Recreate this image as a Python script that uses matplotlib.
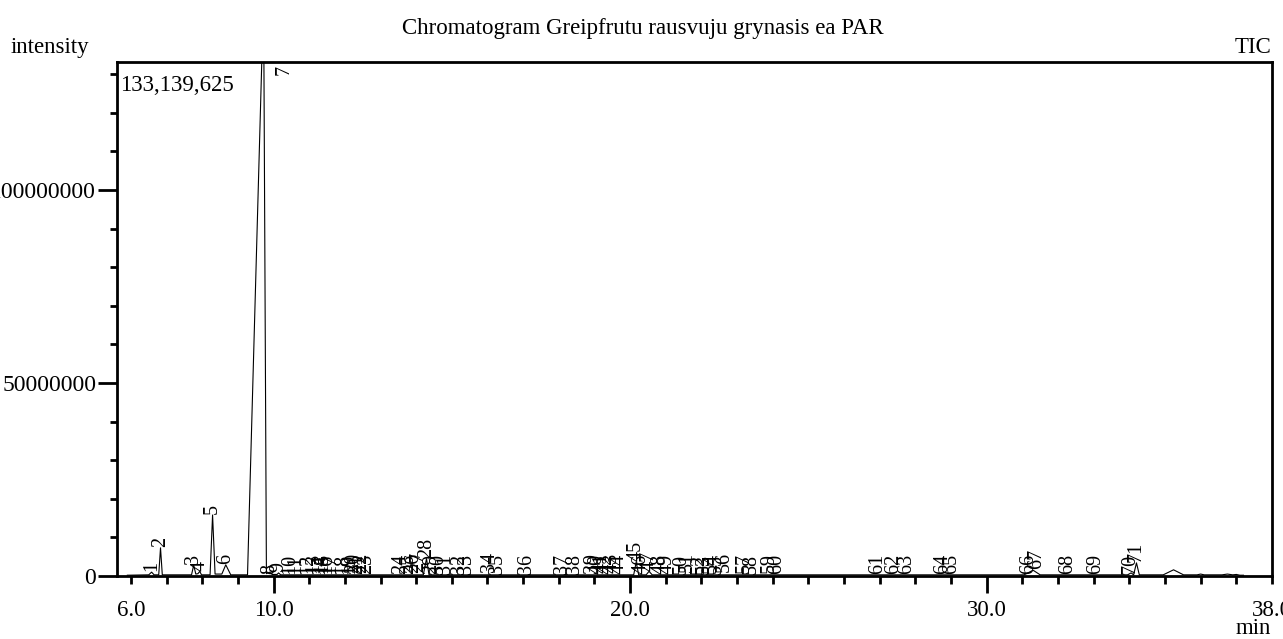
import matplotlib
matplotlib.use("Agg")
import matplotlib.pyplot as plt
from matplotlib.ticker import MultipleLocator, FixedLocator, FuncFormatter

plt.rcParams['font.family'] = ['Liberation Serif', 'DejaVu Serif']

# chromatogram trace (retention time in min, intensity in counts)
trace_t = [5.90, 6.50, 6.58, 6.65, 6.78, 6.83, 6.88, 7.70, 7.76, 7.82, 7.88, 7.93, 7.98,
           8.22, 8.29, 8.36, 8.55, 8.66, 8.80, 9.27, 9.67, 9.73, 9.80, 9.89, 9.96,
           10.10, 10.14, 10.20, 14.20, 14.29, 14.36, 20.10, 20.17, 20.24, 20.45, 20.53, 20.62,
           31.05, 31.30, 31.50, 33.95, 34.05, 34.12, 34.20, 34.28, 34.95, 35.24, 35.52,
           35.90, 36.00, 36.10, 36.60, 36.75, 36.90, 37.00, 37.10, 37.20]
trace_i = [0.2e6, 0.3e6, 1.0e6, 0.3e6, 0.3e6, 7.3e6, 0.3e6, 0.3e6, 2.8e6, 0.5e6, 0.6e6, 1.2e6, 0.3e6,
           0.3e6, 15.8e6, 0.5e6, 0.5e6, 2.9e6, 0.3e6, 0.3e6, 133139625, 133139625, 0.6e6, 1.0e6, 0.4e6,
           0.4e6, 0.8e6, 0.3e6, 0.3e6, 4.5e6, 0.3e6, 0.3e6, 3.6e6, 0.3e6, 0.3e6, 1.2e6, 0.3e6,
           0.3e6, 1.5e6, 0.3e6, 0.3e6, 0.8e6, 0.3e6, 3.4e6, 0.3e6, 0.3e6, 1.6e6, 0.3e6,
           0.3e6, 0.5e6, 0.3e6, 0.3e6, 0.5e6, 0.3e6, 0.4e6, 0.2e6, 0.2e6]

# labelled peaks
peak_no = list(range(1, 72))
peak_rt = [6.58, 6.83, 7.76, 7.93, 8.29, 8.66, 9.69, 9.89, 10.14, 10.45,
           10.62, 10.95, 11.12, 11.29, 11.37, 11.48, 11.60, 11.93, 12.13, 12.24,
           12.35, 12.46, 12.61, 13.56, 13.78, 13.92, 14.06, 14.29, 14.43, 14.62,
           14.82, 15.21, 15.41, 16.05, 16.27, 17.09, 18.10, 18.43, 18.94, 19.08,
           19.22, 19.36, 19.50, 19.69, 20.17, 20.31, 20.53, 20.84, 21.04, 21.43,
           21.60, 21.93, 22.07, 22.27, 22.41, 22.63, 23.19, 23.39, 23.89, 24.12,
           26.95, 27.39, 27.76, 28.77, 29.02, 31.18, 31.40, 32.27, 33.05, 34.01, 34.20]
peak_h = [1.0e6, 7.3e6, 2.8e6, 1.2e6, 15.8e6, 2.9e6, 133139625, 0.4e6, 0.8e6, 0.3e6,
          0.3e6, 0.3e6, 0.5e6, 0.3e6, 0.6e6, 0.3e6, 0.4e6, 0.3e6, 0.3e6, 0.5e6,
          0.4e6, 0.5e6, 0.3e6, 0.3e6, 0.3e6, 0.5e6, 0.8e6, 4.5e6, 0.3e6, 0.3e6,
          0.3e6, 0.3e6, 0.3e6, 0.8e6, 0.3e6, 0.3e6, 0.3e6, 0.3e6, 0.6e6, 0.3e6,
          0.5e6, 0.3e6, 0.5e6, 0.3e6, 3.6e6, 0.3e6, 1.2e6, 0.3e6, 0.3e6, 0.3e6,
          0.8e6, 0.3e6, 0.3e6, 0.5e6, 0.3e6, 0.8e6, 0.5e6, 0.3e6, 0.5e6, 0.3e6,
          0.3e6, 0.3e6, 0.3e6, 0.3e6, 0.3e6, 0.3e6, 1.5e6, 0.3e6, 0.3e6, 0.3e6, 3.4e6]

max_int = 133139625
x_major = [10, 20, 30]
x_edge_labels = [6, 38]

fig = plt.figure(figsize=(12.83, 6.39), dpi=100)
ax = fig.add_axes([0.0912, 0.0986, 0.9002, 0.8044])

ax.plot(trace_t, trace_i, color='black', lw=0.8)

for n, rt, h in zip(peak_no, peak_rt, peak_h):
    if n == 7:
        ax.text(rt + 0.6, max_int * 0.995, str(n), rotation=90, ha='center', va='top',
                fontsize=14.5)
    else:
        ax.text(rt, h + 0.2e6, str(n), rotation=90, ha='center', va='bottom',
                fontsize=14.5)

ax.text(0.003, 0.975, f"{max_int:,}", transform=ax.transAxes, ha='left', va='top',
        fontsize=16.5)

ax.set_xlim(5.61, 38.0)
ax.set_ylim(0, max_int)

ax.xaxis.set_major_locator(FixedLocator(x_major))
ax.xaxis.set_major_formatter(FuncFormatter(lambda v, p: f"{v:.1f}"))
ax.xaxis.set_minor_locator(MultipleLocator(1))
ax.xaxis.set_minor_formatter(FuncFormatter(lambda v, p: f"{v:.1f}" if round(v) in x_edge_labels else ""))
ax.yaxis.set_major_locator(MultipleLocator(50000000))
ax.yaxis.set_major_formatter(FuncFormatter(lambda v, p: f"{int(v)}"))
ax.yaxis.set_minor_locator(MultipleLocator(10000000))

ax.tick_params(axis='x', which='major', direction='out', length=12, width=2, pad=5, labelsize=16.5)
ax.tick_params(axis='x', which='minor', direction='out', length=6, width=2, pad=11, labelsize=16.5)
ax.tick_params(axis='y', which='major', direction='out', length=14, width=2, pad=1, labelsize=17)
ax.tick_params(axis='y', which='minor', direction='out', length=5, width=2)

for s in ax.spines.values():
    s.set_linewidth(2)

fig.text(0.501, 0.956, "Chromatogram Greipfrutu rausvuju grynasis ea PAR", ha='center', va='center',
         fontsize=16.5)
fig.text(0.008, 0.925, "intensity", ha='left', va='center', fontsize=16.5)
fig.text(0.991, 0.925, "TIC", ha='right', va='center', fontsize=16.5)
fig.text(0.991, 0.017, "min", ha='right', va='center', fontsize=16.5)

fig.savefig("out.png", dpi=100)
